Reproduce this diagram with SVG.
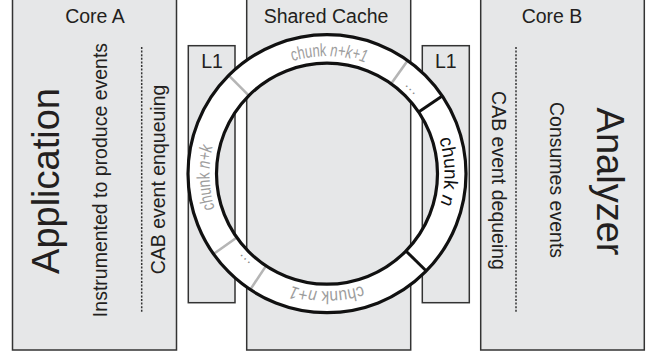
<svg xmlns="http://www.w3.org/2000/svg" width="652" height="356" viewBox="0 0 652 356">
  <style>
    .box { fill: #e6e7e8; stroke: #333; stroke-width: 1.5; }
    .lbl { font-family: "Liberation Sans", Arial, sans-serif; font-size: 19.5px; fill: #231f20; text-anchor: middle; }
    .big { font-family: "Liberation Sans", Arial, sans-serif; font-size: 38px; fill: #231f20; text-anchor: middle; }
    .sep { stroke: #333; stroke-width: 1.5; stroke-dasharray: 2 1.6; fill: none; }
    .ring { fill: none; stroke: #111; stroke-width: 3.2; }
    .div-grey { stroke: #b5b5b5; stroke-width: 2.6; }
    .div-black { stroke: #111; stroke-width: 3; }
    .chunk { font-family: "Liberation Sans", Arial, sans-serif; font-size: 18px; fill: #9d9d9d; text-anchor: middle; }
    .chunk-cur { font-family: "Liberation Sans", Arial, sans-serif; font-size: 19px; fill: #111; text-anchor: middle; }
    .dots { font-family: "Liberation Sans", Arial, sans-serif; font-size: 14px; fill: #888; text-anchor: middle; letter-spacing: 1px; }
  </style>
  <defs>
    <!-- clockwise circle (two turns) along the middle of the ring, starting at the leftmost point -->
    <path id="ringPath" d="M 209.5 173.7 A 117.5 117.5 0 1 1 444.5 173.7 A 117.5 117.5 0 1 1 209.5 173.7 A 117.5 117.5 0 1 1 444.5 173.7 A 117.5 117.5 0 1 1 209.5 173.7"/>
  </defs>

  <rect width="652" height="356" fill="#fff"/>

  <!-- Core A -->
  <g id="core-a">
    <rect class="box" x="12.5" y="-2" width="164" height="352"/>
    <text class="lbl" x="95" y="22.5">Core A</text>
    <text class="big" transform="translate(58.5 181) rotate(-90)">Application</text>
    <text class="lbl" transform="translate(107 180) rotate(-90)">Instrumented to produce events</text>
    <line class="sep" x1="141.7" y1="47" x2="141.7" y2="312"/>
    <text class="lbl" transform="translate(165 179.5) rotate(-90)">CAB event enqueuing</text>
  </g>

  <!-- Shared cache -->
  <g id="shared-cache">
    <rect class="box" x="246.7" y="-2" width="164" height="352"/>
    <text class="lbl" x="326" y="22.5">Shared Cache</text>
  </g>

  <!-- Core B -->
  <g id="core-b">
    <rect class="box" x="480.7" y="-2" width="163.6" height="352"/>
    <text class="lbl" x="552" y="22.5">Core B</text>
    <line class="sep" x1="516" y1="47" x2="516" y2="312.5"/>
    <text class="lbl" transform="translate(491.5 180.5) rotate(90)">CAB event dequeing</text>
    <text class="lbl" transform="translate(550 180) rotate(90)">Consumes events</text>
    <text class="big" transform="translate(596.7 181.5) rotate(90)">Analyzer</text>
  </g>

  <!-- private L1 caches -->
  <g id="l1-a">
    <rect class="box" x="188.3" y="45.7" width="46.7" height="257"/>
    <text class="lbl" x="212" y="68.3">L1</text>
  </g>
  <g id="l1-b">
    <rect class="box" x="422.3" y="45.7" width="47" height="257"/>
    <text class="lbl" x="445.8" y="68.3">L1</text>
  </g>

  <!-- circular buffer of chunks -->
  <g id="ring">
    <path d="M 188 173.7 A 139 139 0 1 1 466 173.7 A 139 139 0 1 1 188 173.7 Z M 216.5 173.7 A 110.5 110.5 0 1 0 437.5 173.7 A 110.5 110.5 0 1 0 216.5 173.7 Z" fill="#fff" fill-rule="evenodd"/>
    <g transform="translate(327 173.7)">
      <line class="div-grey" x1="110.5" y1="0" x2="139" y2="0" transform="rotate(-54.5)"/>
      <line class="div-grey" x1="110.5" y1="0" x2="139" y2="0" transform="rotate(225)"/>
      <line class="div-grey" x1="110.5" y1="0" x2="139" y2="0" transform="rotate(144.7)"/>
      <line class="div-grey" x1="110.5" y1="0" x2="139" y2="0" transform="rotate(123.5)"/>
      <line class="div-black" x1="110.5" y1="0" x2="139" y2="0" transform="rotate(-34)"/>
      <line class="div-black" x1="110.5" y1="0" x2="139" y2="0" transform="rotate(44.4)"/>
      <circle class="ring" r="139"/>
      <circle class="ring" r="110.5"/>
    </g>
    <text class="chunk"><textPath href="#ringPath" startOffset="186.6" textLength="74" lengthAdjust="spacingAndGlyphs">chunk <tspan font-style="italic">n+k+1</tspan></textPath></text>
    <text class="dots"><textPath href="#ringPath" startOffset="276.8">...</textPath></text>
    <text class="chunk-cur"><textPath href="#ringPath" startOffset="367">chunk <tspan font-style="italic">n</tspan></textPath></text>
    <text class="chunk"><textPath href="#ringPath" startOffset="553.7" textLength="72" lengthAdjust="spacingAndGlyphs">chunk <tspan font-style="italic">n+1</tspan></textPath></text>
    <text class="dots"><textPath href="#ringPath" startOffset="644">...</textPath></text>
    <text class="chunk"><textPath href="#ringPath" startOffset="734.2" textLength="63" lengthAdjust="spacingAndGlyphs">chunk <tspan font-style="italic">n+k</tspan></textPath></text>
  </g>
</svg>
